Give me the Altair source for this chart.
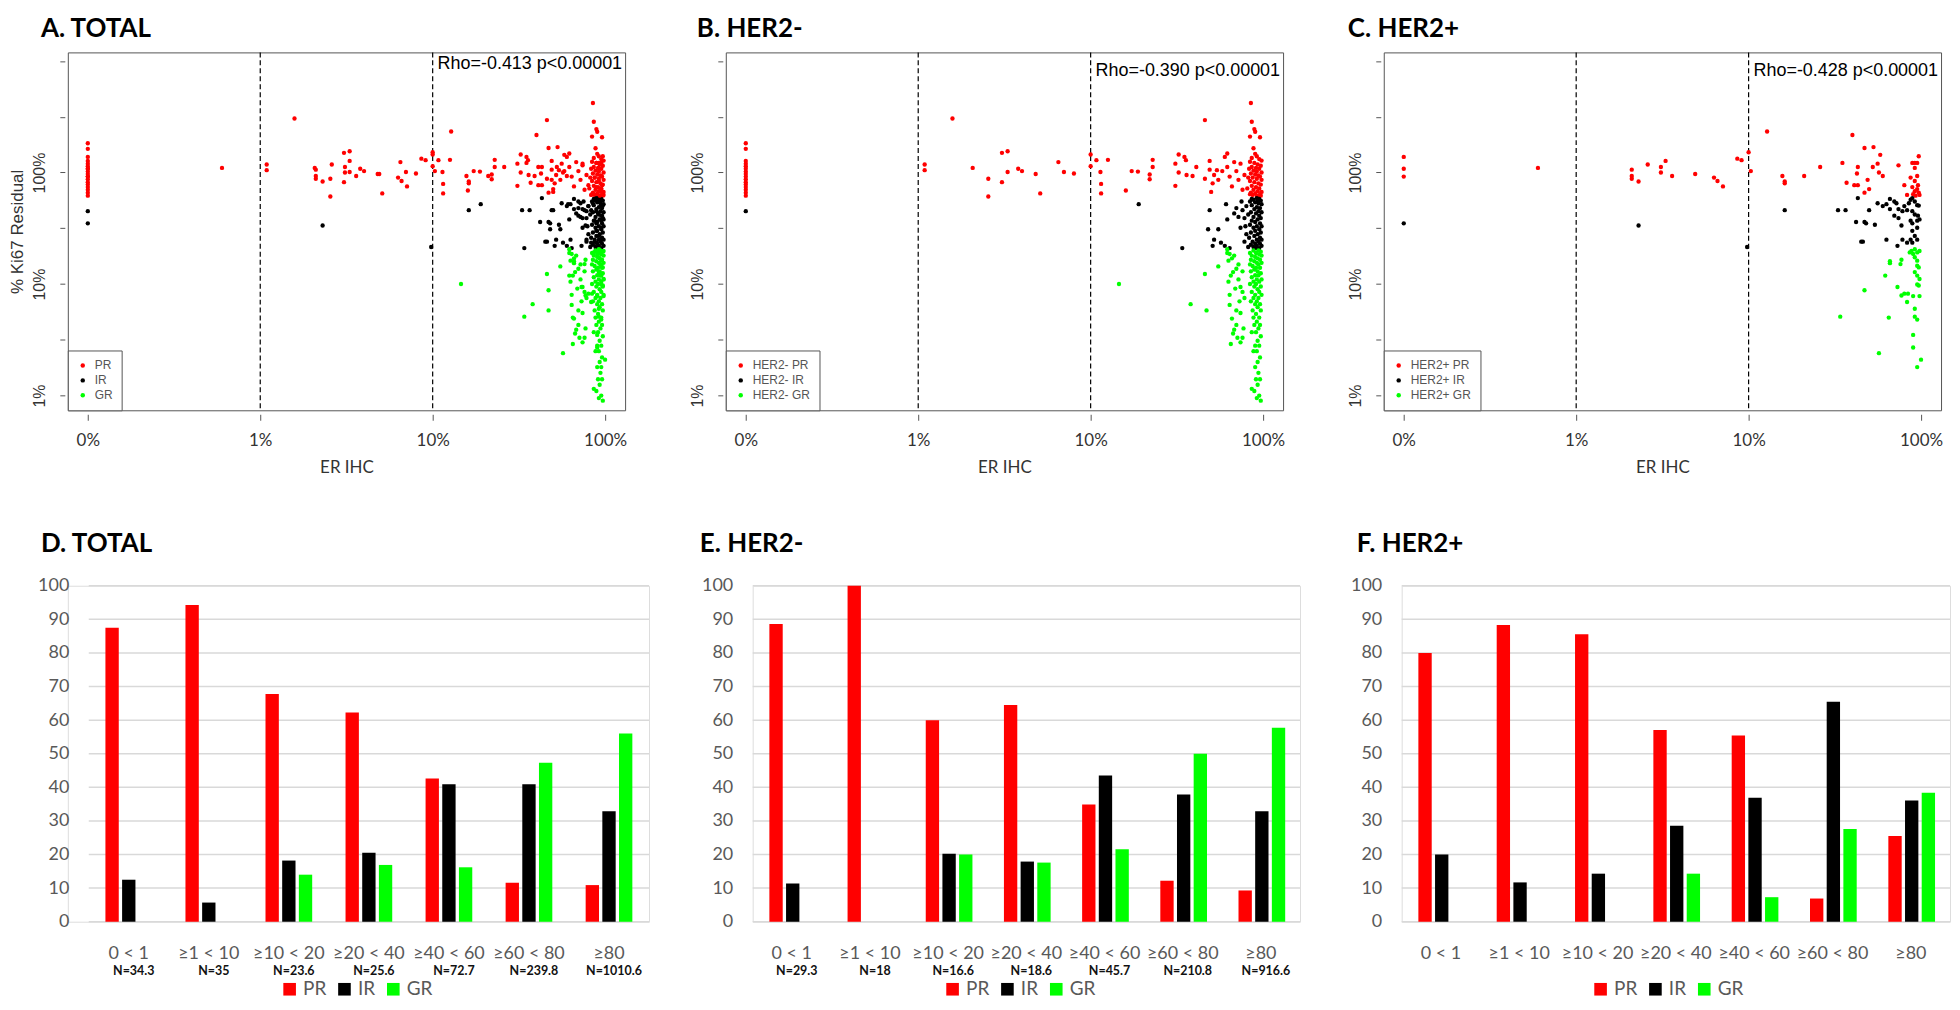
import altair as alt
import pandas as pd

# ---------------- scatter data: (ER IHC %, % Ki67 residual) ----------------
CLASSES = ["PR", "IR", "GR"]
COLORS = ["#ff0000", "#000000", "#00ff00"]

# HER2- patients
NEG_PR = [
    (0, 183), (0, 163), (0, 127), (0, 120), (0, 114), (0, 108), (0, 102), (0, 97),
    (0, 92), (0, 87), (0, 82), (0, 78), (0, 74), (0, 70), (0, 66), (0, 62),
    (1.58, 305), (1.09, 118), (1.09, 105), (2.07, 110), (2.55, 88), (2.55, 61),
    (3.06, 150), (3.3, 155), (3.3, 101), (3.06, 82), (3.8, 108), (4.0, 103),
    (4.8, 97), (5.1, 65), (6.5, 124), (7.0, 101), (8.0, 98), (10, 145), (10, 114),
    (10.8, 129), (11.4, 101), (11.5, 79), (11.5, 65), (12.6, 130), (16, 69),
    (17.3, 103), (18.8, 102), (22, 87), (22, 96), (22.9, 112), (22.9, 130),
    (31, 120), (32.4, 145), (35, 138), (35.7, 129), (32.4, 100), (36, 95), (31, 76),
    (39, 93), (41, 112), (46, 295), (46, 88), (49, 127), (49, 106), (50, 67),
    (51, 80), (52, 95), (54, 105), (55, 86), (58, 103), (60, 138), (62, 148),
    (62, 112), (64, 92), (66, 75), (68, 124), (70, 103), (72, 86), (74, 120),
    (76, 70), (78, 95),
    (85, 420), (86, 285), (89, 245), (90, 232), (84, 210), (96, 207), (88, 165),
    (90, 147), (92, 140), (86, 135), (95, 132), (98, 128), (84, 125), (89, 122),
    (93, 118), (97, 115), (86, 112), (91, 110), (95, 108), (88, 104), (92, 102),
    (98, 100), (85, 98), (90, 96), (94, 94), (96, 92), (87, 90), (92, 88), (98, 86),
    (84, 84), (89, 82), (94, 80), (97, 78), (86, 76), (91, 74), (95, 72), (88, 70),
    (93, 68), (98, 67), (85, 66), (90, 65), (96, 64), (87, 63), (92, 62), (97, 62),
    (94, 61), (84, 64), (81, 72), (82, 90), (83, 108),
]
NEG_IR = [
    (0, 45), (19, 52), (34, 21), (49, 46), (48, 31), (55, 31), (52, 25), (51, 22),
    (57, 23.5), (61, 52), (62, 38), (60, 22), (64, 21),
    (92, 59), (95, 58), (88, 57), (97, 56), (84, 55), (90, 54), (94, 53), (98, 52),
    (86, 51), (80, 50), (92, 49), (96, 48), (89, 47), (76, 46), (94, 45), (98, 44),
    (85, 44), (91, 43), (82, 42), (95, 41), (88, 40), (97, 39), (78, 39), (93, 38),
    (86, 37), (90, 36), (96, 35), (84, 34), (92, 33), (98, 33), (88, 32), (74, 32),
    (95, 31), (90, 30), (97, 29), (85, 29), (93, 28), (80, 28), (89, 27), (96, 26),
    (83, 26), (92, 25), (98, 25), (87, 24), (94, 24), (78, 24), (90, 23), (96, 23),
    (85, 22.5), (92, 22), (98, 22), (88, 21.5), (82, 21.5), (95, 21), (91, 21),
    (72, 40), (70, 48), (75, 55), (68, 43), (79, 33), (86, 58), (93, 56),
]
NEG_GR = [
    (14.6, 10), (38, 6.6), (47, 5.8), (46, 12.3), (55, 14.4),
    (62, 20.5), (64, 18.6), (68, 18), (63, 16.2), (67, 12.8), (70, 13.7), (65, 11.9),
    (72, 11), (74, 9.4), (69, 9.1), (76, 8.5), (64, 6.5), (70, 5.8), (66, 4.9),
    (74, 5.5), (68, 3.9), (71, 3.3), (74, 3.0), (67, 3.6), (76, 3.3), (65, 2.9),
    (62, 19), (66, 17), (72, 15), (76, 13), (63, 10.5), (78, 7.5), (73, 7), (70, 4.3),
    (77, 4), (64, 8),
    (88, 20), (94, 20), (97, 19.5), (84, 19), (91, 19), (95, 18.5), (86, 18), (98, 18),
    (90, 17.5), (93, 17), (85, 16.5), (96, 16.5), (89, 16), (92, 15.5), (98, 15.5),
    (84, 15), (94, 15), (87, 14.5), (91, 14), (96, 14), (89, 13.5), (93, 13), (85, 13),
    (97, 12.5), (90, 12), (94, 12), (86, 11.5), (92, 11), (98, 11), (88, 10.5),
    (95, 10.5), (91, 10), (84, 10), (97, 9.5), (89, 9.5), (93, 9), (86, 8.5), (95, 8.5),
    (90, 8), (98, 8), (88, 7.5), (94, 7.5), (92, 7), (85, 7), (96, 6.6), (90, 6.6),
    (93, 6.2), (87, 5.8), (97, 5.8), (91, 5.4), (95, 5), (88, 5), (92, 4.6), (96, 4.3),
    (89, 4.3), (94, 4), (91, 3.7), (86, 3.7), (97, 3.4), (93, 3.1), (90, 2.8), (95, 2.8),
    (92, 2.5), (88, 2.5), (96, 2.2), (93, 2), (90, 1.8), (94, 1.6), (91, 1.4), (96, 1.4),
    (93, 1.25), (89, 1.1), (95, 1.0), (92, 0.95), (97, 0.9), (86, 1.15),
]

# HER2+ patients
POS_PR = [
    (0, 138), (0, 108), (0, 92), (0.6, 110), (2.1, 106), (2.1, 93), (2.1, 88),
    (2.3, 83), (2.6, 118), (3.1, 112), (3.1, 100), (3.3, 127), (3.6, 93), (4.9, 97),
    (6.3, 90), (6.6, 84), (7.1, 75), (8.6, 133), (9.1, 129), (10, 152), (10.3, 103),
    (12.8, 233), (15.7, 93), (16.2, 83), (16.2, 80), (21, 93), (26, 112), (35, 122),
    (40, 217), (37, 81), (41, 77), (42.5, 98), (43, 112), (47, 166), (43, 77),
    (47, 66), (49, 86), (50, 71), (52.5, 112), (53, 169), (56, 120), (58, 144),
    (57, 100), (60, 93), (74, 116), (80, 77), (87, 90), (83, 63), (89, 122),
    (92, 122), (92, 110), (95, 122), (97, 140), (92, 84), (95, 93), (89, 74),
    (92, 68), (95, 71), (97, 66), (90, 64), (96, 77), (98, 63), (93, 62),
]
POS_IR = [
    (0, 35), (2.3, 33.5), (9.8, 21.5), (16.2, 46), (33, 46), (36.5, 46), (43, 59),
    (42, 36), (47, 36), (48, 35), (45, 24), (46, 24), (50, 46), (54, 34),
    (56, 53), (60, 50), (63, 52), (66, 58), (66, 47), (70, 55), (72, 53), (74, 47),
    (70, 41), (74, 39), (78, 45), (77, 33.5), (80, 50), (83, 46), (85, 53), (87, 57),
    (89, 59), (92, 55), (95, 51), (89, 45), (92, 42), (96, 41), (95, 37), (89, 35),
    (87, 37), (89, 30), (92, 27), (95, 25), (87, 25), (78, 25), (63, 25), (73, 22),
    (83, 23.5), (89, 23.5), (97, 50.5), (98, 38), (95, 32),
]
POS_GR = [
    (34, 5.1), (47, 8.8), (57, 2.4), (62, 11.9), (65, 5.0), (66, 15.4), (66, 16),
    (73, 9.4), (76, 15.1), (77, 16.5), (77, 7.9), (80, 8.2), (84, 8.2), (83, 6.9),
    (86, 19.2), (88, 19.8), (90, 18.6), (92, 20.5), (95, 19.2), (98, 19.8), (92, 17.4),
    (95, 16.2), (95, 14.6), (97, 14.1), (92, 12.8), (95, 11.9), (98, 11.1), (95, 9.9),
    (97, 9.7), (90, 7.8), (98, 7.8), (92, 6.0), (92, 5.1), (95, 4.8), (90, 3.5),
    (90, 2.7), (100, 2.1), (95, 1.8),
]

X_TICKS = [-1, 0, 1, 2]
X_TICK_LABELS = ["0%", "1%", "10%", "100%"]
Y_TICKS = [0, 0.5, 1, 1.5, 2, 2.5, 3]
CUTOFFS = [1, 10]
RHO = ["Rho=-0.413 p<0.00001", "Rho=-0.390 p<0.00001", "Rho=-0.428 p<0.00001"]

# ---------------- bar data ----------------
CATS = ["0 < 1", "≥1 < 10", "≥10 < 20", "≥20 < 40", "≥40 < 60", "≥60 < 80", "≥80"]
TOT_PR = [87.5, 94.3, 67.8, 62.3, 42.6, 11.6, 10.9]
TOT_IR = [12.5, 5.7, 18.2, 20.5, 40.9, 40.9, 32.9]
TOT_GR = [0, 0, 14.0, 16.9, 16.2, 47.3, 56.0]
TOT_N = ["N=34.3", "N=35", "N=23.6", "N=25.6", "N=72.7", "N=239.8", "N=1010.6"]
NEG_BPR = [88.6, 100, 60.0, 64.5, 34.9, 12.2, 9.3]
NEG_BIR = [11.4, 0, 20.2, 17.9, 43.5, 37.9, 32.9]
NEG_BGR = [0, 0, 20.0, 17.6, 21.6, 50.0, 57.7]
NEG_N = ["N=29.3", "N=18", "N=16.6", "N=18.6", "N=45.7", "N=210.8", "N=916.6"]
POS_BPR = [80.0, 88.3, 85.6, 57.1, 55.4, 6.9, 25.5]
POS_BIR = [20.0, 11.7, 14.3, 28.6, 36.9, 65.5, 36.1]
POS_BGR = [0, 0, 0, 14.3, 7.3, 27.6, 38.4]
BAR_TICKS = [0, 10, 20, 30, 40, 50, 60, 70, 80, 90, 100]

SW, SH = 559, 359
BH = 337


def frame(groups, prefix):
    rows = []
    for cls, pts in zip(CLASSES, groups):
        for er, ki in pts:
            rows.append({"er": er, "ki": ki, "cls": prefix + cls})
    return pd.DataFrame(rows)


def scatter(df, prefix, title, title_dx, rho, rho_y, ytitle):
    dom = [prefix + c for c in CLASSES]
    xs = alt.Scale(domain=[-1.116, 2.116], nice=False, zero=False)
    ys = alt.Scale(domain=[-0.132, 3.077], nice=False, zero=False)
    lab = "[" + ",".join("'%s'" % t for t in X_TICK_LABELS) + "][datum.value + 1]"
    xaxis = alt.Axis(values=X_TICKS, labelExpr=lab, title="ER IHC", grid=False,
                     domain=False, offset=4, tickSize=6, tickColor="#555",
                     labelFont="Lato", labelFontSize=17, labelColor="#333",
                     labelPadding=12, titleFont="Lato", titleFontSize=17,
                     titleFontWeight="normal", titleColor="#333", titlePadding=11)
    yargs = dict(values=Y_TICKS,
                 labelExpr="datum.value == 0 ? '1%' : datum.value == 1 ? '10%' : datum.value == 2 ? '100%' : ''",
                 grid=False, domain=False, offset=3, tickSize=5, tickColor="#555",
                 labelAngle=270, labelAlign="center", labelBaseline="bottom",
                 labelFont="Liberation Sans", labelFontSize=16, labelColor="#333",
                 labelPadding=12)
    if ytitle:
        yaxis = alt.Axis(title=ytitle, titleFont="Liberation Sans", titleFontSize=17,
                         titleFontWeight="normal", titleColor="#333", titlePadding=5, **yargs)
    else:
        yaxis = alt.Axis(title=None, **yargs)
    calc = dict(lx="log(max(datum.er, 0.1)) / LN10", ly="log(datum.ki) / LN10")
    rules = alt.Chart(pd.DataFrame({"er": CUTOFFS})).transform_calculate(
        lx="log(datum.er) / LN10").mark_rule(color="black", strokeDash=[5, 3],
                                              strokeWidth=1.2).encode(
        x=alt.X("lx:Q", scale=xs, axis=xaxis))
    pts = alt.Chart(df).transform_calculate(**calc).mark_circle(size=19, opacity=1).encode(
        x=alt.X("lx:Q", scale=xs, axis=xaxis),
        y=alt.Y("ly:Q", scale=ys, axis=yaxis),
        color=alt.Color("cls:N", scale=alt.Scale(domain=dom, range=COLORS),
                        legend=alt.Legend(title=None, orient="bottom-left", offset=0,
                                          padding=9, rowPadding=3, symbolType="circle",
                                          symbolSize=20, symbolStrokeWidth=0,
                                          labelFont="Liberation Sans", labelFontSize=12,
                                          labelColor="#555", labelOffset=6,
                                          strokeColor="#555", fillColor="white",
                                          cornerRadius=0)),
    )
    txt = alt.Chart(pd.DataFrame({"t": [rho]})).mark_text(
        align="right", baseline="middle", font="Liberation Sans", fontSize=18,
        color="black").encode(text="t:N", x=alt.value(SW - 3), y=alt.value(rho_y))
    return alt.layer(rules, pts, txt).properties(
        width=SW, height=SH,
        title=alt.Title(title, anchor="start", frame="group", dx=title_dx, offset=10,
                        font="Lato", fontSize=26, fontWeight="bold", color="black"),
        view=alt.ViewBackground(stroke="#555", strokeWidth=1),
    ).resolve_scale(color="independent")


def bars(pr, ir, gr, ns, title, title_dx, plot_w, shift, leg_x):
    rows = []
    for s, vals in zip(CLASSES, [pr, ir, gr]):
        for c, v in zip(CATS, vals):
            rows.append({"cat": c, "series": s, "value": v})
    df = pd.DataFrame(rows)
    view_w = plot_w + shift
    xaxis = alt.Axis(title=None, labelAngle=0, ticks=False, domain=False,
                     labelFont="Lato", labelFontSize=18, labelColor="#595959",
                     labelPadding=23)
    yaxis = alt.Axis(values=BAR_TICKS, domain=False, ticks=False, grid=False,
                     labelFont="Lato", labelFontSize=18, labelColor="#595959",
                     labelPadding=20, offset=-shift, title=None)
    xs = alt.Scale(range=[shift, view_w], paddingInner=0, paddingOuter=0)
    ys = alt.Scale(domain=[0, 100], nice=False)
    grid = alt.Chart(pd.DataFrame({"value": BAR_TICKS})).mark_rule(
        color="#d9d9d9", strokeWidth=1.5).encode(
        y=alt.Y("value:Q", scale=ys, axis=yaxis),
        x=alt.value(shift), x2=alt.value(view_w))
    b = alt.Chart(df).mark_bar().encode(
        x=alt.X("cat:N", sort=CATS, scale=xs, axis=xaxis),
        xOffset=alt.XOffset("series:N", sort=CLASSES,
                            scale=alt.Scale(domain=CLASSES, paddingInner=0.2, paddingOuter=1.0)),
        y=alt.Y("value:Q", scale=ys, axis=yaxis),
        color=alt.Color("series:N", scale=alt.Scale(domain=CLASSES, range=COLORS),
                        legend=alt.Legend(title=None, orient="none", legendX=leg_x,
                                          legendY=BH + 58, direction="horizontal",
                                          symbolType="square", symbolSize=160,
                                          symbolStrokeWidth=0, labelFont="Lato",
                                          labelFontSize=19, labelColor="#595959",
                                          labelOffset=4, columnPadding=8)),
    )
    layers = [grid, b]
    if ns:
        ndf = pd.DataFrame({"cat": CATS, "n": ns})
        t = alt.Chart(ndf).mark_text(font="Lato", fontSize=12.5, fontWeight="bold",
                                     color="#111", dx=5).encode(
            x=alt.X("cat:N", sort=CATS, scale=xs, axis=xaxis),
            y=alt.value(BH + 49), text="n:N")
        layers.append(t)
    return alt.layer(*layers).properties(
        width=view_w, height=BH,
        title=alt.Title(title, anchor="start", frame="group", dx=title_dx, offset=20,
                        font="Lato", fontSize=26, fontWeight="bold", color="black"),
    )


df_neg = frame([NEG_PR, NEG_IR, NEG_GR], "HER2- ")
df_pos = frame([POS_PR, POS_IR, POS_GR], "HER2+ ")
df_all = pd.concat([frame([NEG_PR, NEG_IR, NEG_GR], ""),
                    frame([POS_PR, POS_IR, POS_GR], "")], ignore_index=True)

A = scatter(df_all, "", "A. TOTAL", -27, RHO[0], 12, "% Ki67 Residual")
B = scatter(df_neg, "HER2- ", "B. HER2-", -29, RHO[1], 19, None)
C = scatter(df_pos, "HER2+ ", "C. HER2+", -36, RHO[2], 19, None)

D = bars(TOT_PR, TOT_IR, TOT_GR, TOT_N, "D. TOTAL", -27, 562, 21, 213)
E = bars(NEG_BPR, NEG_BIR, NEG_BGR, NEG_N, "E. HER2-", -53, 549, 0, 191)
F = bars(POS_BPR, POS_BIR, POS_BGR, None, "F. HER2+", -45, 550, 0, 190)

top = alt.hconcat(A, B, C, spacing=61).resolve_scale(color="independent", x="independent", y="independent")
bot = alt.hconcat(D, E, F, spacing=48).resolve_scale(color="independent", x="independent", y="independent")

chart = alt.vconcat(top, bot, spacing=54).resolve_scale(
    color="independent", x="independent", y="independent"
).properties(padding={"left": 0, "top": 5, "right": 0, "bottom": 0}).configure_view(
    stroke=None
).configure(background="white")

chart.save("out.html", embed_options={"renderer": "svg", "actions": False})
